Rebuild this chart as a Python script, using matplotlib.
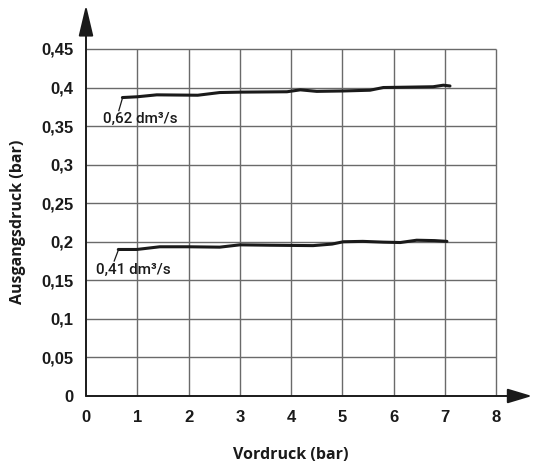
import matplotlib
matplotlib.use("Agg")
import matplotlib.pyplot as plt
import numpy as np

plt.rcParams['font.family'] = ['Open Sans', 'DejaVu Sans']

# data
x_upper = [0.71, 1.0, 1.38, 2.18, 2.61, 3.0, 3.92, 4.18, 4.5, 5.0, 5.54, 5.8, 6.3, 6.77, 6.97, 7.1]
y_upper = [0.387, 0.388, 0.3905, 0.390, 0.3935, 0.394, 0.3945, 0.397, 0.395, 0.3955, 0.3965, 0.400, 0.4005, 0.401, 0.403, 0.402]
x_lower = [0.63, 0.99, 1.44, 2.0, 2.61, 3.0, 3.6, 4.43, 4.8, 5.02, 5.4, 5.8, 6.13, 6.45, 6.8, 7.04]
y_lower = [0.190, 0.190, 0.1935, 0.1935, 0.193, 0.196, 0.1955, 0.195, 0.197, 0.200, 0.2005, 0.1995, 0.199, 0.202, 0.2015, 0.2005]
label_upper = "0,62 dm³/s"
label_lower = "0,41 dm³/s"
x_ticks = [0, 1, 2, 3, 4, 5, 6, 7, 8]
y_ticks = [0, 0.05, 0.1, 0.15, 0.2, 0.25, 0.3, 0.35, 0.4, 0.45]
y_tick_labels = ["0", "0,05", "0,1", "0,15", "0,2", "0,25", "0,3", "0,35", "0,4", "0,45"]

fig = plt.figure(figsize=(5.39, 4.65), dpi=100)
ax = fig.add_axes([86/539, 69/465, 446/539, 391/465])
xmax, ymax = 8.7, 0.507
ax.set_xlim(0, xmax)
ax.set_ylim(0, ymax)
for s in ax.spines.values():
    s.set_visible(False)

grid_c = '#6a6a6a'
ax.vlines(x_ticks[1:], 0, 0.45, color=grid_c, lw=1.0, zorder=1)
ax.hlines(y_ticks[1:], 0, 8, color=grid_c, lw=1.0, zorder=1)

# axes with arrows
ax.annotate('', xy=(xmax, 0), xytext=(0, 0), xycoords='data',
            arrowprops=dict(arrowstyle='-|>,head_length=1.5,head_width=0.45', color='#1a1a1a', lw=1.4,
                            shrinkA=0, shrinkB=0), annotation_clip=False, zorder=3)
ax.annotate('', xy=(0, ymax), xytext=(0, 0), xycoords='data',
            arrowprops=dict(arrowstyle='-|>,head_length=1.9,head_width=0.45', color='#1a1a1a', lw=1.4,
                            shrinkA=0, shrinkB=0), annotation_clip=False, zorder=3)

ax.plot(x_upper, y_upper, color='#1a1a1a', lw=2.2, solid_capstyle='round', zorder=4)
ax.plot(x_lower, y_lower, color='#1a1a1a', lw=2.2, solid_capstyle='round', zorder=4)

# leader lines and labels
lab_font = dict(family=['Roboto', 'DejaVu Sans'], size=11, weight='medium')
ax.plot([x_upper[0], x_upper[0] - 0.07], [y_upper[0] - 0.001, 0.370], color='#1a1a1a', lw=0.9, zorder=4)
ax.text(0.33, 0.359, label_upper, fontdict=lab_font, color='#1a1a1a',
        ha='left', va='center', zorder=5)
ax.plot([x_lower[0], x_lower[0] - 0.08], [y_lower[0] - 0.001, 0.175], color='#1a1a1a', lw=0.9, zorder=4)
ax.text(0.19, 0.163, label_lower, fontdict=lab_font, color='#1a1a1a',
        ha='left', va='center', zorder=5)

tick_font = dict(family=['Liberation Sans', 'DejaVu Sans'], size=12, weight='bold')
ax.set_xticks(x_ticks)
ax.set_xticklabels([str(t) for t in x_ticks], fontdict=tick_font, color='#1a1a1a')
ax.set_yticks(y_ticks)
ax.set_yticklabels(y_tick_labels, fontdict=tick_font, color='#1a1a1a')
ax.tick_params(axis='both', length=0)
ax.tick_params(axis='x', pad=10)
ax.tick_params(axis='y', pad=9)

ttl_font = dict(family=['Open Sans', 'DejaVu Sans'], size=11.5, weight='bold')
fig.text(291/539, 1 - 455/465, "Vordruck (bar)", ha='center', va='center',
         fontdict=ttl_font, color='#1a1a1a')
fig.text(18/539, 1 - 222/465, "Ausgangsdruck (bar)", ha='center', va='center', rotation=90,
         fontdict=ttl_font, color='#1a1a1a')

fig.savefig('out.png', dpi=100)
